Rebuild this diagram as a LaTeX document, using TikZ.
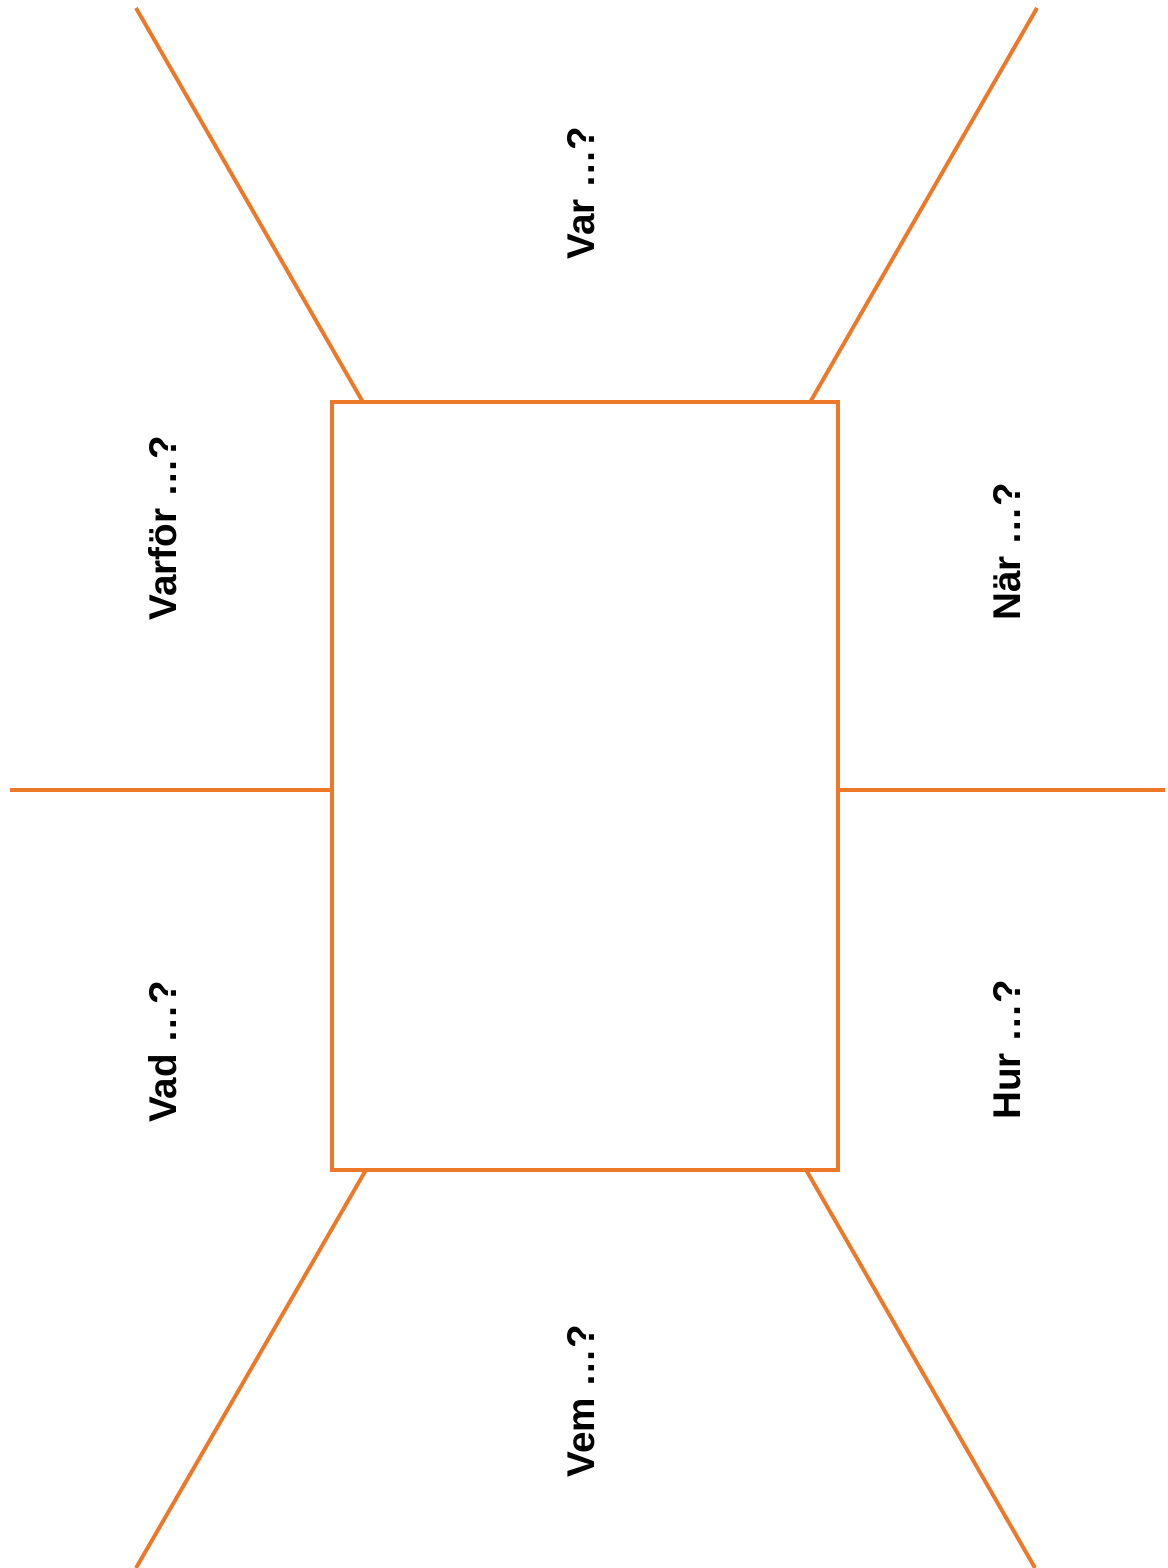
\documentclass[tikz,border=0pt]{standalone}
\usepackage{fontspec}
\setmainfont{Liberation Sans}
\usetikzlibrary{positioning, calc}
\definecolor{spokeorange}{HTML}{ED7828}
\tikzset{
  topicbox/.style={
    rectangle,
    draw=spokeorange,
    line width=2.4pt,
    minimum width=10.12cm,
    minimum height=15.36cm,
    inner sep=0pt,
    outer sep=0pt
  },
  spoke/.style={draw=spokeorange, line width=2.2pt},
  question/.style={
    rotate=90,
    inner sep=0pt,
    font=\fontsize{22}{26}\selectfont\bfseries
  }
}
\begin{document}
\begin{tikzpicture}[x=0.02cm, y=-0.02cm]
  \useasboundingbox (0,0) rectangle (1167,1568);
  \node[topicbox] (topic) at (585,786) {};

  \coordinate (farTL) at (136,8);
  \coordinate (farTR) at (1037,8);
  \coordinate (farL) at (10,790);
  \coordinate (farR) at (1165,790);
  \coordinate (farBL) at (136,1568);
  \coordinate (farBR) at (1035,1568);

  \draw[spoke] ($(topic.north west)!0.061!(topic.north east)$) -- (farTL);
  \draw[spoke] ($(topic.north west)!0.945!(topic.north east)$) -- (farTR);
  \draw[spoke] (topic.west |- farL) -- (farL);
  \draw[spoke] (topic.east |- farR) -- (farR);
  \draw[spoke] ($(topic.south west)!0.067!(topic.south east)$) -- (farBL);
  \draw[spoke] ($(topic.south west)!0.937!(topic.south east)$) -- (farBR);

  \node[question] (var) at (581,193) {Var …?};
  \node[question] (varfor) at (163,528) {Varför …?};
  \node[question] (nar) at (1007,552) {När …?};
  \node[question] (vad) at (163,1052) {Vad …?};
  \node[question] (hur) at (1007,1050) {Hur …?};
  \node[question] (vem) at (581,1401) {Vem …?};
\end{tikzpicture}
\end{document}
